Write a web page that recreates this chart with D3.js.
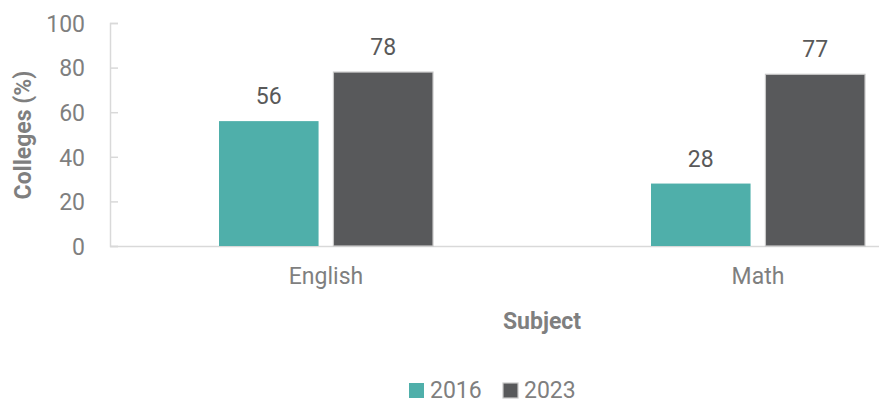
<!DOCTYPE html>
<html>
<head>
<meta charset="utf-8">
<script src="https://cdn.jsdelivr.net/npm/d3@7"></script>
<style>
  body { margin: 0; background: #fff; }
  text { font-family: Roboto, sans-serif; }
</style>
</head>
<body>
<svg id="chart" width="879" height="402"></svg>
<script>
// chart data
var subjects = ["English", "Math"];
var years = ["2016", "2023"];
var values2016 = [56, 28];
var values2023 = [78, 77];
var yTicks = [0, 20, 40, 60, 80, 100];

var colors = { "2016": "#4FAFAA", "2023": "#58595B" };

var svg = d3.select("#chart");
var plotLeft = 110, plotRight = 974, plotTop = 23, plotBottom = 246;

var x = d3.scaleBand().domain(subjects).range([plotLeft, plotRight]);
var xInner = d3.scaleBand().domain(years).range([-107, 107]).paddingInner(0.13);
var y = d3.scaleLinear().domain([0, 100]).range([plotBottom, plotTop]);

var rows = subjects.map(function(s, i) {
	return { subject: s, vals: [{ year: "2016", v: values2016[i] }, { year: "2023", v: values2023[i] }] };
});

// y axis
var yAxis = svg.append("g")
	.attr("transform", "translate(" + plotLeft + ",0)")
	.call(d3.axisLeft(y).tickValues(yTicks).tickSize(-8).tickPadding(25));
yAxis.select(".domain").attr("stroke", "#d9d9d9").attr("stroke-width", 1.5);
yAxis.selectAll(".tick line").attr("stroke", "#d9d9d9").attr("stroke-width", 1.5);
yAxis.selectAll(".tick text")
	.style("font-size", "23px")
	.attr("fill", "#7f7f7f")
	.attr("dy", "0.36em");

// x axis
var xAxis = svg.append("g")
	.attr("transform", "translate(0," + plotBottom + ")")
	.call(d3.axisBottom(x).tickSize(0).tickPadding(22));
xAxis.select(".domain").attr("stroke", "#d9d9d9").attr("stroke-width", 1.5);
xAxis.selectAll(".tick text")
	.style("font-size", "23px")
	.attr("fill", "#7f7f7f");

// bars
var groups = svg.selectAll(".group")
	.data(rows)
	.enter()
	.append("g")
	.attr("class", "group")
	.attr("transform", function(d) { return "translate(" + (x(d.subject) + x.bandwidth() / 2) + ",0)"; });

groups.selectAll("rect")
	.data(function(d) { return d.vals; })
	.enter()
	.append("rect")
	.attr("x", function(d) { return xInner(d.year); })
	.attr("width", xInner.bandwidth())
	.attr("y", function(d) { return y(d.v); })
	.attr("height", function(d) { return plotBottom - y(d.v); })
	.attr("fill", function(d) { return colors[d.year]; })
	.attr("stroke", function(d) { return d.year == "2023" ? "#c8c8c8" : "none"; })
	.attr("stroke-width", 1.2);

groups.selectAll(".label")
	.data(function(d) { return d.vals; })
	.enter()
	.append("text")
	.attr("class", "label")
	.attr("x", function(d) { return xInner(d.year) + xInner.bandwidth() / 2; })
	.attr("y", function(d) { return y(d.v) - 17; })
	.attr("text-anchor", "middle")
	.style("font-size", "23px")
	.attr("fill", "#595959")
	.text(function(d) { return d.v; });

// axis titles
svg.append("text")
	.attr("transform", "translate(31,135) rotate(-90)")
	.attr("text-anchor", "middle")
	.style("font-size", "23px")
	.style("font-weight", "bold")
	.attr("fill", "#7f7f7f")
	.text("Colleges (%)");

svg.append("text")
	.attr("x", 542)
	.attr("y", 329)
	.attr("text-anchor", "middle")
	.style("font-size", "23px")
	.style("font-weight", "bold")
	.attr("fill", "#7f7f7f")
	.text("Subject");

// legend
var legend = svg.selectAll(".legend")
	.data(years)
	.enter()
	.append("g")
	.attr("class", "legend")
	.attr("transform", function(d, i) { return "translate(" + (409 + i * 94) + ",383)"; });

legend.append("rect")
	.attr("width", 15)
	.attr("height", 15)
	.attr("fill", function(d) { return colors[d]; })
	.attr("stroke", function(d) { return d == "2023" ? "#c8c8c8" : "none"; })
	.attr("stroke-width", 1.2);

legend.append("text")
	.attr("x", 21)
	.attr("y", 15)
	.style("font-size", "23px")
	.attr("fill", "#7f7f7f")
	.text(function(d) { return d; });
</script>
</body>
</html>
